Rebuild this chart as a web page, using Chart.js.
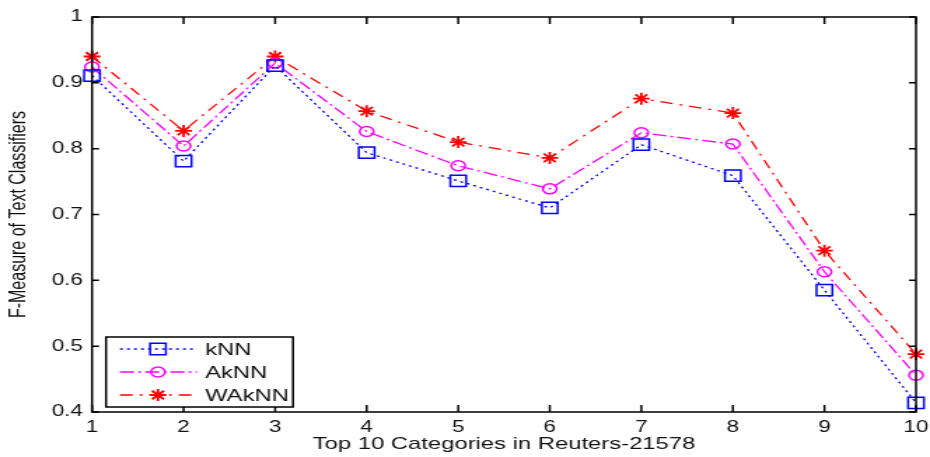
<!DOCTYPE html>
<html>
<head>
<meta charset="utf-8">
<script src="https://cdn.jsdelivr.net/npm/chart.js@4.4.0/dist/chart.umd.min.js"></script>
<style>
  html, body { margin: 0; padding: 0; background: #fff; overflow: hidden; }
  /* the original figure is stretched sideways, so draw narrow and widen */
  #wrap { width: 664px; height: 457px; transform: scaleX(1.4006); transform-origin: 0 0; }
</style>
</head>
<body>
<div id="wrap"><canvas id="lineChart" width="664" height="457" style="width:664px;height:457px"></canvas></div>
<script>
let categories = [1, 2, 3, 4, 5, 6, 7, 8, 9, 10];
let knn   = [0.911, 0.781, 0.926, 0.794, 0.751, 0.710, 0.806, 0.759, 0.585, 0.414];
let aknn  = [0.924, 0.804, 0.930, 0.826, 0.774, 0.739, 0.824, 0.807, 0.613, 0.456];
let waknn = [0.940, 0.827, 0.940, 0.857, 0.810, 0.786, 0.876, 0.854, 0.645, 0.488];
let yTicks = [0.4, 0.5, 0.6, 0.7, 0.8, 0.9, 1];

let font = "'Liberation Sans', Arial, sans-serif";

function pts(vals) {
    return categories.map((c, i) => ({x: c, y: vals[i]}));
}

// box round the plot and inward ticks on all four sides
let frame = {
    id: 'frame',
    afterDatasetsDraw(chart) {
        let ctx = chart.ctx, a = chart.chartArea;
        let xs = chart.scales.x, ys = chart.scales.y;
        ctx.save();
        ctx.strokeStyle = '#000';
        ctx.lineWidth = 1.5;
        ctx.strokeRect(a.left, a.top, a.right - a.left, a.bottom - a.top);
        ctx.beginPath();
        categories.forEach(c => {
            let px = xs.getPixelForValue(c);
            ctx.moveTo(px, a.bottom); ctx.lineTo(px, a.bottom - 7);
            ctx.moveTo(px, a.top); ctx.lineTo(px, a.top + 7);
        });
        yTicks.forEach(v => {
            let py = ys.getPixelForValue(v);
            ctx.moveTo(a.left, py); ctx.lineTo(a.left + 5, py);
            ctx.moveTo(a.right, py); ctx.lineTo(a.right - 5, py);
        });
        ctx.stroke();
        ctx.restore();
    },
    afterDraw(chart) {
        // legend box in the lower left corner
        let ctx = chart.ctx;
        let bx = 75.7, by = 337, bw = 133.5, bh = 70;
        ctx.save();
        ctx.fillStyle = '#fff';
        ctx.fillRect(bx, by, bw, bh);
        ctx.strokeStyle = '#000';
        ctx.lineWidth = 1.5;
        ctx.strokeRect(bx, by, bw, bh);
        chart.data.datasets.forEach((ds, i) => {
            let y = by + 12 + i * 23;
            ctx.strokeStyle = ds.borderColor;
            ctx.lineWidth = 1.3;
            ctx.setLineDash(ds.borderDash);
            ctx.beginPath();
            ctx.moveTo(85.7, y); ctx.lineTo(140.7, y);
            ctx.stroke();
            ctx.setLineDash([]);
            ctx.fillStyle = ds.pointBackgroundColor;
            ctx.strokeStyle = ds.pointBorderColor;
            ctx.lineWidth = ds.pointBorderWidth;
            Chart.helpers.drawPoint(ctx, {
                pointStyle: ds.pointStyle,
                radius: ds.pointRadius,
                borderWidth: ds.pointBorderWidth
            }, 112.8, y);
            ctx.fillStyle = '#111';
            ctx.font = '17px ' + font;
            ctx.textBaseline = 'middle';
            ctx.fillText(ds.label, 146.4, y + 1);
        });
        ctx.restore();
    }
};

let chart = document.getElementById('lineChart');
let lineChart = new Chart(chart, {
    type: 'line',
    data: {
        datasets: [
            {
                label: 'kNN',
                data: pts(knn),
                borderColor: '#0000ff',
                backgroundColor: 'rgba(0,0,0,0)',
                borderWidth: 1.3,
                borderDash: [2, 3],
                pointStyle: 'rect',
                pointRadius: 8,
                pointBorderWidth: 1.5,
                pointBackgroundColor: 'rgba(0,0,0,0)',
                pointBorderColor: '#0000ff',
                tension: 0
            },
            {
                label: 'AkNN',
                data: pts(aknn),
                borderColor: '#ff00ff',
                backgroundColor: 'rgba(0,0,0,0)',
                borderWidth: 1.3,
                borderDash: [10, 3, 2, 3],
                pointStyle: 'circle',
                pointRadius: 5,
                pointBorderWidth: 1.5,
                pointBackgroundColor: 'rgba(0,0,0,0)',
                pointBorderColor: '#ff00ff',
                tension: 0
            },
            {
                label: 'WAkNN',
                data: pts(waknn),
                borderColor: '#ff0000',
                backgroundColor: 'rgba(0,0,0,0)',
                borderWidth: 1.3,
                borderDash: [9, 5, 2, 5],
                pointStyle: 'star',
                pointRadius: 6,
                pointBorderWidth: 1.8,
                pointBackgroundColor: '#ff0000',
                pointBorderColor: '#ff0000',
                tension: 0
            }
        ]
    },
    options: {
        responsive: false,
        animation: false,
        devicePixelRatio: 1,
        clip: false,
        layout: { padding: { left: 0, right: 10, top: 17, bottom: 0 } },
        plugins: { legend: { display: false }, tooltip: { enabled: false } },
        scales: {
            x: {
                type: 'linear',
                min: 1,
                max: 10,
                grid: { display: false, drawTicks: false },
                border: { display: false },
                ticks: {
                    stepSize: 1,
                    padding: 6,
                    color: '#111',
                    font: { family: font, size: 16 },
                    maxRotation: 0
                },
                title: {
                    display: true,
                    text: 'Top 10 Categories in Reuters-21578',
                    color: '#111',
                    font: { family: font, size: 17 },
                    padding: { top: 0, bottom: 2 }
                },
                afterFit(scale) {
                    scale.height = 45;
                    scale.paddingLeft = 0;
                    scale.paddingRight = 0;
                }
            },
            y: {
                min: 0.4,
                max: 1,
                grid: { display: false, drawTicks: false },
                border: { display: false },
                afterBuildTicks(scale) { scale.ticks = yTicks.map(v => ({value: v})); },
                ticks: {
                    padding: 6.5,
                    color: '#111',
                    font: { family: font, size: 16 },
                    callback: v => String(Math.round(v * 10) / 10)
                },
                title: {
                    display: true,
                    text: 'F-Measure of Text Classifiers',
                    color: '#111',
                    font: { family: font, size: 16 },
                    padding: { top: 3.5, bottom: 0 }
                },
                afterFit(scale) {
                    scale.width = 65.7;
                    scale.paddingTop = 0;
                    scale.paddingBottom = 0;
                }
            }
        }
    },
    plugins: [frame]
});
</script>
</body>
</html>
